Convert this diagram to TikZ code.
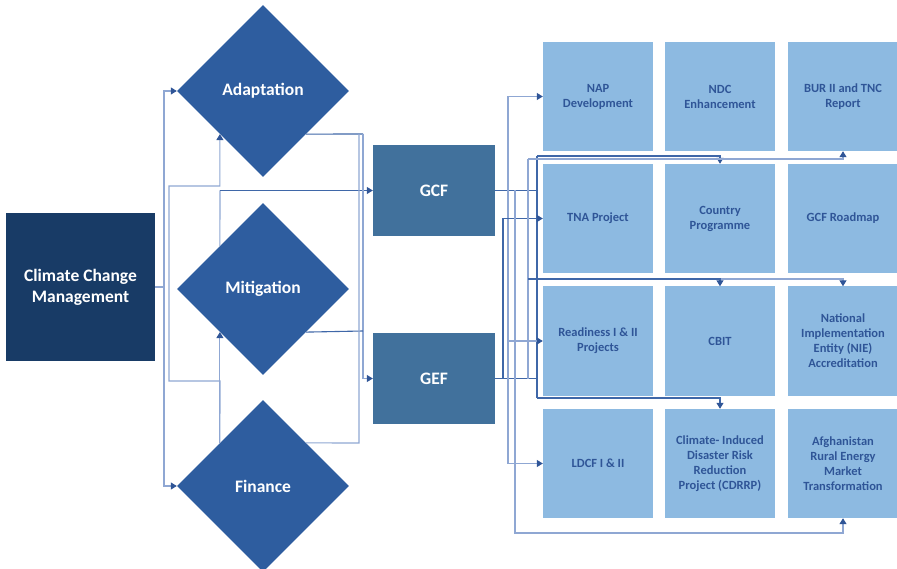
\documentclass[tikz,border=0pt]{standalone}
\usepackage{fontspec}
\setmainfont{Carlito}
\usetikzlibrary{shapes.geometric,arrows.meta}
\definecolor{navy}{HTML}{183B66}
\definecolor{diam}{HTML}{2E5D9F}
\definecolor{steel}{HTML}{41719C}
\definecolor{lightbox}{HTML}{8DBAE1}
\definecolor{boxtext}{HTML}{2F5597}
\definecolor{lnlight}{HTML}{8FA7D3}
\definecolor{lndark}{HTML}{3F67A8}
\definecolor{tipcol}{HTML}{2F5597}
\begin{document}
\begin{tikzpicture}[x=1pt,y=-1pt,
  bigtext/.style={font=\fontsize{17.5}{21}\selectfont\bfseries, text=white, align=center},
  ccmbox/.style={bigtext, fill=navy, minimum width=149pt, minimum height=148pt, inner sep=0pt},
  diabox/.style={bigtext, diamond, aspect=1, fill=diam, minimum width=172pt, minimum height=172pt, inner sep=0pt},
  fundbox/.style={bigtext, fill=steel, minimum width=122pt, minimum height=91pt, inner sep=0pt},
  gridbox/.style={fill=lightbox, minimum width=110pt, minimum height=109pt, inner sep=0pt,
    font=\fontsize{12.5}{15}\selectfont\bfseries, text=boxtext, align=center},
  ln/.style={draw=lnlight, line width=1.1pt},
  dk/.style={draw=lndark, line width=1.1pt},
  tip/.style={-{Triangle[width=7pt,length=6pt,fill=tipcol,color=tipcol]}}
]
\useasboundingbox (0,0) rectangle (897,569);
\clip (0,0) rectangle (897,569);

% main nodes
\node[ccmbox] (ccm) at (80.5,287) {Climate Change\\Management};
\node[diabox] (ad) at (263,91) {Adaptation};
\node[diabox] (mi) at (263,289) {Mitigation};
\node[diabox] (fi) at (263,486) {Finance};
\node[fundbox] (gcf) at (434,190.5) {GCF};
\node[fundbox] (gef) at (434,378.5) {GEF};

% grid
\node[gridbox] (nap) at (598,96.5) {NAP\\Development};
\node[gridbox] (ndc) at (720,96.5) {NDC\\Enhancement};
\node[gridbox] (bur) at (843,96.5) {BUR II and TNC\\Report};
\node[gridbox] (tna) at (598,218.5) {TNA Project};
\node[gridbox] (cp) at (720,218.5) {Country\\Programme};
\node[gridbox] (rm) at (843,218.5) {GCF Roadmap};
\node[gridbox] (rd) at (598,341) {Readiness I \& II\\Projects};
\node[gridbox] (cbit) at (720,341) {CBIT};
\node[gridbox] (nie) at (843,341) {National\\Implementation\\Entity (NIE)\\Accreditation};
\node[gridbox] (ldcf) at (598,463.5) {LDCF I \& II};
\node[gridbox] (cdr) at (720,463.5) {Climate- Induced\\Disaster Risk\\Reduction\\Project (CDRRP)};
\node[gridbox] (af) at (843,463.5) {Afghanistan\\Rural Energy\\Market\\Transformation};

% left connectors
\coordinate (j1) at (164,287);
\draw[ln] (ccm.east) -- (j1);
\draw[ln,tip] (j1) |- (ad.west);
\draw[ln,tip] (j1) |- (fi.west);
\draw[ln,tip] (fi.north west) -- (mi.south west);
\draw[ln,tip] (fi.north west) -- (220,381) -| (169,186) -| (ad.south west);
\draw[ln] (mi.north west) -- (220,190.5);
\draw[dk,tip] (220,190.5) -- (gcf.west);
\draw[dk] (ad.south east) -- (363,134);
\draw[ln,tip] (363,134) |- (gef.west);
\draw[dk] (mi.south east) -- (363,331);
\draw[ln] (fi.north east) -- (359,443) -- (359,134);

% right connectors
\draw[dk] (gcf.east) -- (537,190.5);
\draw[dk] (gef.east) -- (537,378.5);
\draw[dk] (537,156) -- (537,398);
\draw[dk,tip] (537,156) -| (cp.north);
\draw[dk,tip] (537,398) -| (cdr.north);
\draw[ln,tip] (508,190.5) |- (nap.west);
\draw[ln,tip] (508,190.5) |- (ldcf.west);
\draw[ln,tip] (508,341) -- (rd.west);
\draw[dk,tip] (503,378.5) |- (tna.west);
\draw[ln,tip] (515,190.5) -- (515,533) -| (af.south);
\draw[ln] (528,159) -- (528,378.5);
\draw[ln,tip] (528,159) -| (bur.south);
\draw[ln,tip] (720,279) -| (nie.north);
\draw[dk,tip] (528,279) -- (720,279) -- (cbit.north);
\end{tikzpicture}
\end{document}
